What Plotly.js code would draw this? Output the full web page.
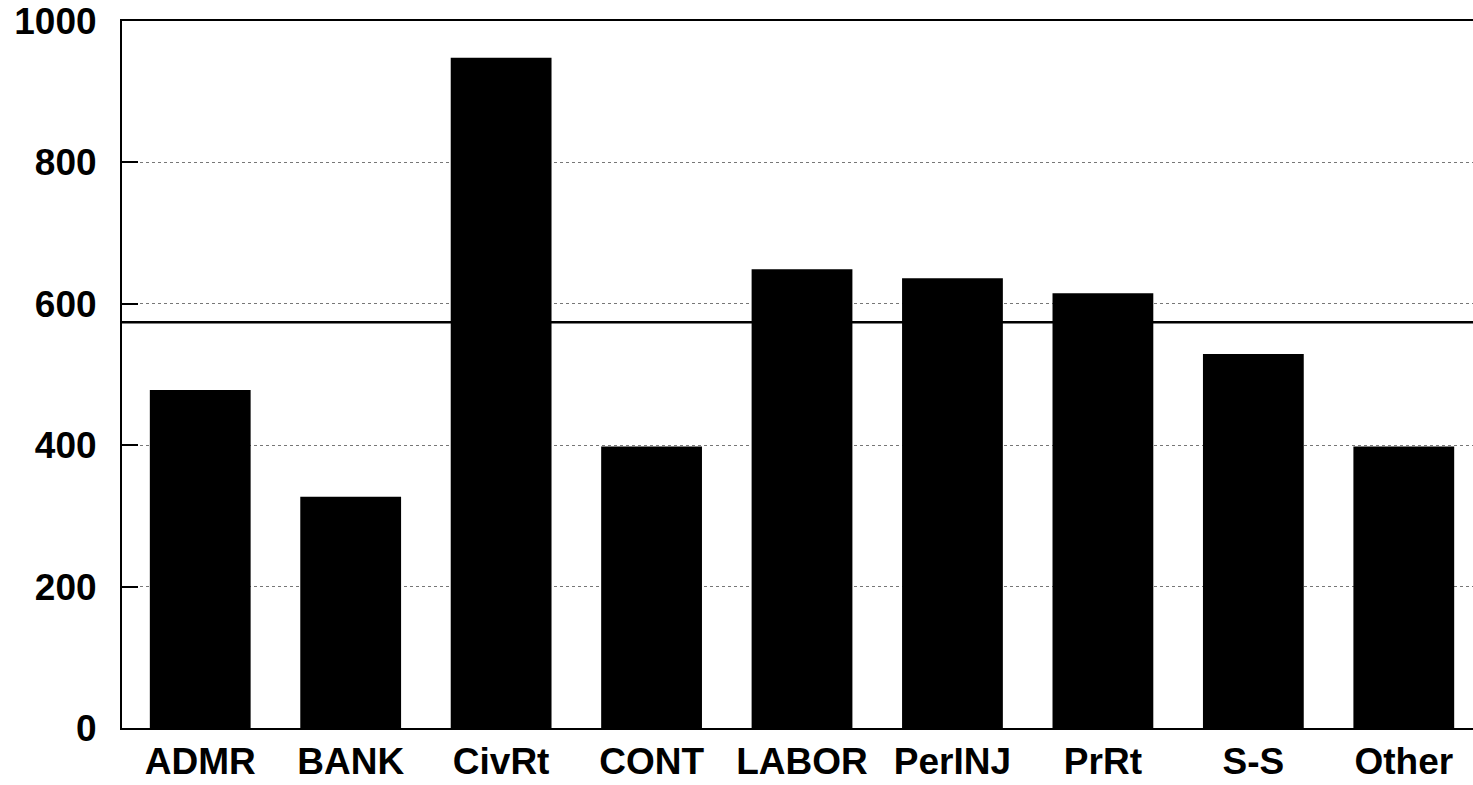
<!DOCTYPE html>
<html>
<head>
<meta charset="utf-8">
<script src="https://cdn.plot.ly/plotly-3.0.1.min.js"></script>
<style>html,body{margin:0;padding:0;background:#fff;}#chart{width:1473px;height:785px;}</style>
</head>
<body>
<div id="chart"></div>
<script>
const categories = ["ADMR", "BANK", "CivRt", "CONT", "LABOR", "PerINJ", "PrRt", "S-S", "Other"];
const values = [478, 327, 948, 398, 649, 636, 615, 529, 398];
const averageValue = [574];
const yTickVals = [0, 200, 400, 600, 800, 1000];
const yTickText = ["0", "200", "400", "600", "800", "1000"];

const font = {family: "Liberation Sans, Arial, sans-serif", size: 37, color: "#000"};

const trace = {
  type: "bar",
  x: categories,
  y: values,
  width: 0.67,
  marker: {color: "#000", line: {width: 0}},
  hoverinfo: "x+y"
};

const layout = {
  width: 1473,
  height: 785,
  margin: {l: 122, r: 0, t: 21, b: 57, pad: 0},
  paper_bgcolor: "#fff",
  plot_bgcolor: "#fff",
  showlegend: false,
  font: font,
  xaxis: {
    type: "category",
    range: [-0.52, 8.46],
    showline: true,
    linecolor: "#000",
    linewidth: 2,
    mirror: true,
    ticks: "",
    showgrid: false,
    tickfont: {family: font.family, size: 37, color: "#000", weight: "bold"},
    ticklabelstandoff: 0
  },
  yaxis: {
    range: [0, 1000],
    tickvals: yTickVals,
    ticktext: yTickText,
    showline: true,
    linecolor: "#000",
    linewidth: 2,
    ticks: "inside",
    ticklen: 16,
    tickwidth: 2,
    tickcolor: "#000",
    showgrid: true,
    gridcolor: "#777",
    gridwidth: 1,
    griddash: "dot",
    zeroline: false,
    tickfont: {family: font.family, size: 37, color: "#000", weight: "bold"},
    ticklabelstandoff: 16
  },
  shapes: [{
    type: "line",
    xref: "paper",
    yref: "y",
    x0: 0,
    x1: 1,
    y0: averageValue[0],
    y1: averageValue[0],
    layer: "below",
    line: {color: "#000", width: 2.5}
  }]
};

Plotly.newPlot("chart", [trace], layout, {displayModeBar: false, staticPlot: true});
</script>
</body>
</html>
